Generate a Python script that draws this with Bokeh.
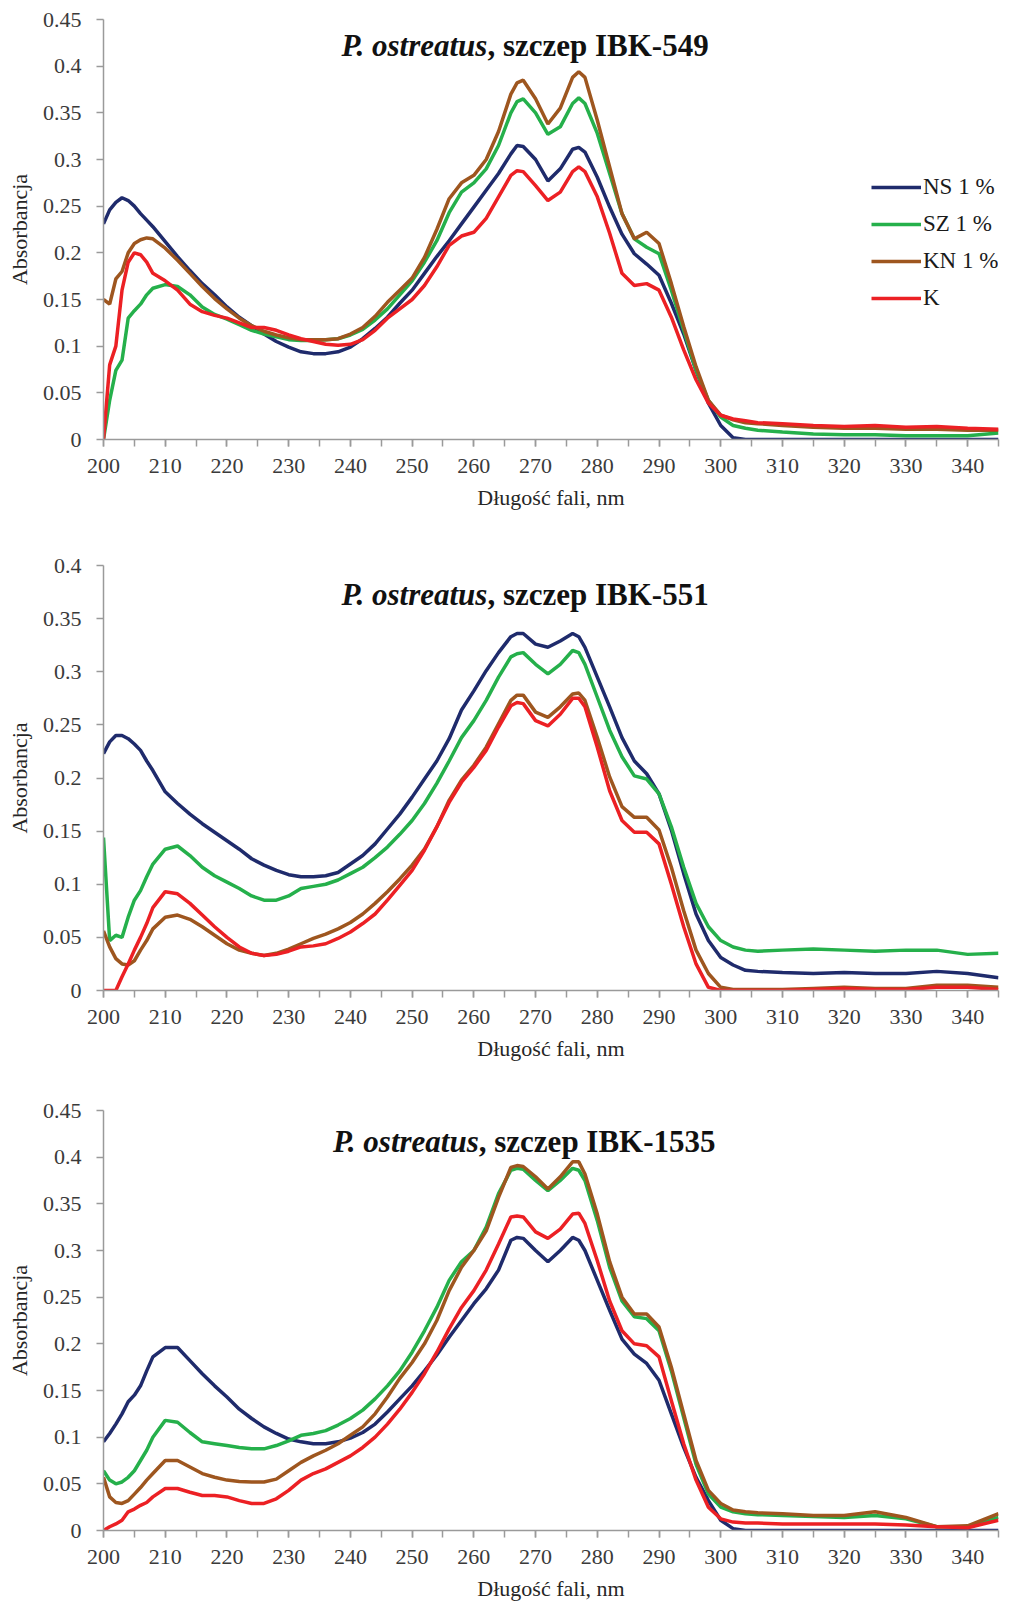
from bokeh.plotting import figure
from bokeh.layouts import column
from bokeh.models import Range1d, SingleIntervalTicker, NumeralTickFormatter, Label, Legend, LegendItem
from bokeh.embed import file_html
from bokeh.resources import INLINE

# Wavelength grid (nm)
WL = [200, 201, 202, 203, 204, 205, 206, 207, 208,
      210, 212, 214, 216, 218, 220, 222, 224, 226, 228,
      230, 232, 234, 236, 238, 240, 242, 244, 246, 248,
      250, 252, 254, 256, 258, 260, 262, 264, 266, 267, 268,
      270, 272, 274, 276, 277, 278, 280, 282, 284, 286, 288,
      290, 292, 294, 296, 298, 300, 302, 304, 306,
      310, 315, 320, 325, 330, 335, 340, 345]

SERIES = ["NS 1 %", "SZ 1 %", "KN 1 %", "K"]
COLORS = ["#1f2b6c", "#25b04b", "#9e561f", "#ec2024"]

# ---------- IBK-549 ----------
c1_ns = [0.231, 0.246, 0.254, 0.259, 0.256, 0.250, 0.242, 0.235, 0.228,
         0.212, 0.196, 0.181, 0.167, 0.155, 0.142, 0.131, 0.122, 0.113, 0.105,
         0.099, 0.094, 0.092, 0.092, 0.094, 0.099, 0.108, 0.119, 0.131, 0.146,
         0.160, 0.178, 0.196, 0.213, 0.231, 0.249, 0.267, 0.285, 0.306, 0.315, 0.314,
         0.300, 0.277, 0.290, 0.311, 0.313, 0.308, 0.281, 0.249, 0.220, 0.199, 0.188,
         0.176, 0.146, 0.113, 0.074, 0.039, 0.015, 0.002, 0.0, 0.0,
         0.0, 0.0, 0.0, 0.0, 0.0, 0.0, 0.0, 0.0]
c1_sz = [0.0, 0.042, 0.074, 0.085, 0.130, 0.138, 0.145, 0.155, 0.162,
         0.166, 0.164, 0.155, 0.142, 0.134, 0.129, 0.123, 0.117, 0.113, 0.110,
         0.107, 0.106, 0.106, 0.107, 0.108, 0.112, 0.118, 0.128, 0.140, 0.155,
         0.170, 0.190, 0.213, 0.243, 0.265, 0.275, 0.290, 0.315, 0.350, 0.362, 0.365,
         0.350, 0.327, 0.335, 0.360, 0.366, 0.360, 0.328, 0.285, 0.242, 0.215, 0.206,
         0.199, 0.160, 0.117, 0.074, 0.042, 0.024, 0.015, 0.012, 0.010,
         0.008, 0.006, 0.005, 0.005, 0.004, 0.004, 0.004, 0.007]
c1_kn = [0.150, 0.145, 0.172, 0.180, 0.200, 0.210, 0.214, 0.216, 0.215,
         0.205, 0.192, 0.178, 0.164, 0.151, 0.140, 0.130, 0.122, 0.116, 0.112,
         0.109, 0.107, 0.107, 0.107, 0.108, 0.113, 0.120, 0.132, 0.147, 0.160,
         0.173, 0.195, 0.225, 0.258, 0.275, 0.283, 0.300, 0.330, 0.370, 0.382, 0.385,
         0.365, 0.338, 0.355, 0.388, 0.394, 0.388, 0.342, 0.292, 0.242, 0.215, 0.222,
         0.210, 0.167, 0.121, 0.078, 0.042, 0.026, 0.021, 0.018, 0.017,
         0.015, 0.013, 0.012, 0.012, 0.011, 0.011, 0.010, 0.010]
c1_k = [0.0, 0.080, 0.100, 0.160, 0.190, 0.200, 0.198, 0.190, 0.178,
        0.170, 0.160, 0.145, 0.137, 0.133, 0.130, 0.125, 0.120, 0.120, 0.117,
        0.112, 0.108, 0.105, 0.102, 0.101, 0.102, 0.107, 0.117, 0.130, 0.140,
        0.150, 0.165, 0.185, 0.208, 0.218, 0.222, 0.237, 0.260, 0.283, 0.288, 0.287,
        0.272, 0.256, 0.265, 0.287, 0.292, 0.287, 0.260, 0.221, 0.178, 0.165, 0.167,
        0.160, 0.131, 0.096, 0.064, 0.039, 0.026, 0.022, 0.020, 0.018,
        0.017, 0.015, 0.014, 0.015, 0.013, 0.014, 0.012, 0.011]

# ---------- IBK-551 ----------
c2_ns = [0.223, 0.234, 0.240, 0.240, 0.237, 0.232, 0.226, 0.216, 0.207,
         0.187, 0.176, 0.166, 0.157, 0.149, 0.141, 0.133, 0.124, 0.118, 0.113,
         0.109, 0.107, 0.107, 0.108, 0.111, 0.119, 0.127, 0.138, 0.152, 0.166,
         0.182, 0.199, 0.216, 0.237, 0.264, 0.282, 0.301, 0.318, 0.333, 0.336, 0.336,
         0.326, 0.323, 0.329, 0.336, 0.333, 0.323, 0.295, 0.267, 0.238, 0.216, 0.204,
         0.185, 0.151, 0.110, 0.072, 0.047, 0.031, 0.024, 0.019, 0.018,
         0.017, 0.016, 0.017, 0.016, 0.016, 0.018, 0.016, 0.012]
c2_sz = [0.144, 0.047, 0.052, 0.050, 0.069, 0.085, 0.094, 0.107, 0.119,
         0.133, 0.136, 0.127, 0.116, 0.108, 0.102, 0.096, 0.089, 0.085, 0.085,
         0.089, 0.096, 0.098, 0.100, 0.104, 0.110, 0.116, 0.125, 0.135, 0.147,
         0.160, 0.176, 0.195, 0.216, 0.238, 0.254, 0.273, 0.295, 0.314, 0.317, 0.318,
         0.307, 0.298, 0.307, 0.320, 0.318, 0.307, 0.276, 0.245, 0.220, 0.202, 0.199,
         0.185, 0.154, 0.116, 0.082, 0.060, 0.047, 0.041, 0.038, 0.037,
         0.038, 0.039, 0.038, 0.037, 0.038, 0.038, 0.034, 0.035]
c2_kn = [0.056, 0.041, 0.030, 0.025, 0.024, 0.028, 0.038, 0.047, 0.058,
         0.069, 0.071, 0.067, 0.060, 0.052, 0.044, 0.038, 0.035, 0.033, 0.035,
         0.039, 0.044, 0.049, 0.053, 0.058, 0.064, 0.072, 0.082, 0.093, 0.105,
         0.118, 0.133, 0.154, 0.179, 0.198, 0.212, 0.229, 0.251, 0.273, 0.278, 0.278,
         0.262, 0.257, 0.267, 0.279, 0.280, 0.273, 0.238, 0.201, 0.173, 0.163, 0.163,
         0.151, 0.116, 0.075, 0.038, 0.016, 0.003, 0.001, 0.001, 0.001,
         0.001, 0.002, 0.003, 0.002, 0.002, 0.005, 0.005, 0.003]
c2_k = [0.0, 0.0, 0.0, 0.013, 0.025, 0.038, 0.050, 0.063, 0.078,
        0.093, 0.091, 0.082, 0.071, 0.060, 0.050, 0.041, 0.035, 0.033, 0.034,
        0.037, 0.041, 0.042, 0.044, 0.049, 0.055, 0.063, 0.072, 0.085, 0.099,
        0.113, 0.132, 0.154, 0.177, 0.196, 0.210, 0.226, 0.248, 0.268, 0.271, 0.270,
        0.254, 0.249, 0.260, 0.275, 0.275, 0.267, 0.229, 0.188, 0.160, 0.149, 0.149,
        0.138, 0.100, 0.060, 0.025, 0.003, 0.0, 0.0, 0.0, 0.0,
        0.0, 0.001, 0.002, 0.001, 0.001, 0.003, 0.003, 0.001]

# ---------- IBK-1535 ----------
c3_ns = [0.095, 0.104, 0.114, 0.125, 0.138, 0.145, 0.155, 0.171, 0.186,
         0.196, 0.196, 0.182, 0.168, 0.155, 0.143, 0.130, 0.120, 0.111, 0.104,
         0.098, 0.095, 0.093, 0.093, 0.095, 0.099, 0.105, 0.114, 0.127, 0.141,
         0.155, 0.171, 0.188, 0.207, 0.225, 0.243, 0.259, 0.279, 0.311, 0.314, 0.313,
         0.300, 0.288, 0.300, 0.314, 0.311, 0.300, 0.268, 0.236, 0.205, 0.189, 0.179,
         0.161, 0.125, 0.089, 0.057, 0.032, 0.011, 0.002, 0.0, 0.0,
         0.0, 0.0, 0.0, 0.0, 0.0, 0.0, 0.0, 0.0]
c3_sz = [0.064, 0.054, 0.050, 0.052, 0.057, 0.064, 0.075, 0.086, 0.100,
         0.118, 0.116, 0.105, 0.095, 0.093, 0.091, 0.089, 0.0875, 0.0875, 0.091,
         0.096, 0.102, 0.104, 0.107, 0.113, 0.120, 0.129, 0.141, 0.155, 0.171,
         0.191, 0.214, 0.239, 0.268, 0.288, 0.300, 0.325, 0.361, 0.386, 0.388, 0.387,
         0.375, 0.364, 0.375, 0.388, 0.386, 0.375, 0.332, 0.282, 0.246, 0.229, 0.227,
         0.214, 0.171, 0.121, 0.071, 0.039, 0.025, 0.020, 0.018, 0.017,
         0.016, 0.015, 0.014, 0.016, 0.0125, 0.004, 0.004, 0.014]
c3_kn = [0.057, 0.036, 0.030, 0.029, 0.032, 0.039, 0.046, 0.054, 0.061,
         0.075, 0.075, 0.068, 0.061, 0.057, 0.054, 0.0525, 0.052, 0.052, 0.055,
         0.064, 0.073, 0.080, 0.086, 0.093, 0.102, 0.111, 0.125, 0.143, 0.163,
         0.180, 0.200, 0.225, 0.257, 0.282, 0.300, 0.321, 0.357, 0.389, 0.391, 0.390,
         0.379, 0.366, 0.379, 0.395, 0.395, 0.382, 0.339, 0.288, 0.250, 0.232, 0.232,
         0.218, 0.175, 0.125, 0.075, 0.043, 0.029, 0.022, 0.020, 0.019,
         0.018, 0.016, 0.016, 0.020, 0.014, 0.004, 0.005, 0.018]
c3_k = [0.0, 0.004, 0.007, 0.011, 0.020, 0.023, 0.027, 0.030, 0.036,
        0.045, 0.045, 0.041, 0.0375, 0.0375, 0.036, 0.032, 0.029, 0.029, 0.034,
        0.043, 0.054, 0.061, 0.066, 0.073, 0.080, 0.089, 0.100, 0.114, 0.130,
        0.148, 0.168, 0.191, 0.216, 0.239, 0.257, 0.279, 0.307, 0.336, 0.337, 0.336,
        0.320, 0.313, 0.323, 0.339, 0.340, 0.329, 0.289, 0.246, 0.214, 0.200, 0.198,
        0.186, 0.139, 0.093, 0.054, 0.025, 0.0125, 0.009, 0.008, 0.008,
        0.007, 0.007, 0.007, 0.007, 0.006, 0.004, 0.003, 0.011]

TITLES = ["IBK-549", "IBK-551", "IBK-1535"]
X_LABEL = "Długość fali, nm"
Y_LABEL = "Absorbancja"

FONT = "Liberation Serif"


def make_panel(series, ymax, height, top, bottom, strain, split_x, title_y, legend=False):
    p = figure(width=1023, height=height, x_range=Range1d(200, 345), y_range=Range1d(0, ymax),
               output_backend="svg", toolbar_location=None,
               min_border_left=103, min_border_right=25, min_border_top=top, min_border_bottom=bottom)
    p.xgrid.visible = False
    p.ygrid.visible = False
    p.outline_line_color = None
    p.background_fill_color = "white"
    p.border_fill_color = "white"

    xa = p.xaxis[0]
    xa.ticker = SingleIntervalTicker(interval=10, num_minor_ticks=2)
    ya = p.yaxis[0]
    ya.ticker = SingleIntervalTicker(interval=0.05, num_minor_ticks=0)
    ya.formatter = NumeralTickFormatter(format="0.[00]")
    for ax in (xa, ya):
        ax.axis_line_color = "#9a9a9a"
        ax.axis_line_width = 1.5
        ax.major_tick_line_color = "#9a9a9a"
        ax.minor_tick_line_color = "#9a9a9a"
        ax.major_tick_line_width = 1.5
        ax.minor_tick_line_width = 1.5
        ax.major_tick_in = 0
        ax.major_tick_out = 7
        ax.minor_tick_in = 0
        ax.minor_tick_out = 7
        ax.major_label_text_font = FONT
        ax.major_label_text_font_size = "22px"
        ax.major_label_text_color = "#3a3a3a"
        ax.axis_label_text_font = FONT
        ax.axis_label_text_font_size = "22px"
        ax.axis_label_text_font_style = "normal"
        ax.axis_label_text_color = "#262626"
    xa.axis_label = X_LABEL
    ya.axis_label = Y_LABEL
    xa.major_label_standoff = 12
    xa.axis_label_standoff = 9
    ya.major_label_standoff = 15
    ya.axis_label_standoff = 8

    items = []
    for name, ys, col in zip(SERIES, series, COLORS):
        r = p.line(WL, ys, line_color=col, line_width=3.5)
        items.append(LegendItem(label=name, renderers=[r]))

    if legend:
        lg = Legend(items=items, location=(768, 128), padding=0, margin=0, spacing=11,
                    glyph_width=50, glyph_height=22, label_height=22, label_standoff=2,
                    label_text_font=FONT, label_text_font_size="23px", label_text_color="#1a1a1a",
                    background_fill_alpha=0, border_line_alpha=0)
        p.add_layout(lg, "center")

    p.add_layout(Label(x=split_x, y=title_y, text="P. ostreatus", text_font=FONT,
                       text_font_style="bold italic", text_font_size="31px",
                       text_align="right", text_baseline="alphabetic", text_color="#111111"))
    p.add_layout(Label(x=split_x, y=title_y, text=", szczep " + strain, text_font=FONT,
                       text_font_style="bold", text_font_size="31px",
                       text_align="left", text_baseline="alphabetic", text_color="#111111"))
    return p


p1 = make_panel([c1_ns, c1_sz, c1_kn, c1_k], 0.45, 520, 19, 81, TITLES[0], 262.2, 0.422, legend=True)
p2 = make_panel([c2_ns, c2_sz, c2_kn, c2_k], 0.40, 555, 45, 85, TITLES[1], 262.2, 0.373)
p3 = make_panel([c3_ns, c3_sz, c3_kn, c3_k], 0.45, 530, 35, 75, TITLES[2], 260.8, 0.417)

layout = column(p1, p2, p3, spacing=0)
open("out.html", "w").write(file_html(layout, INLINE))
